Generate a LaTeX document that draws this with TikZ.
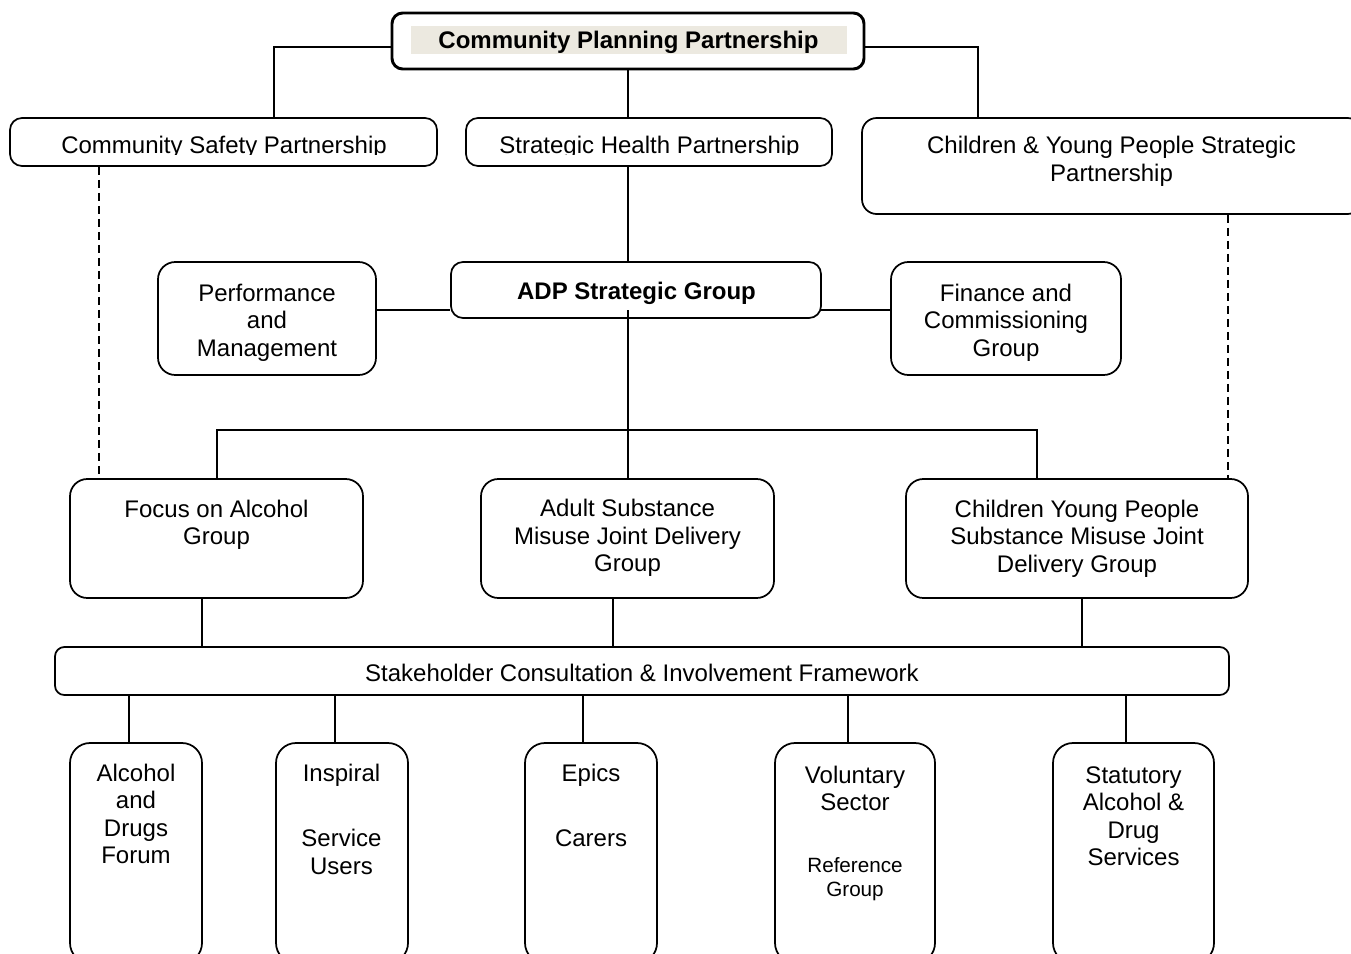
\documentclass[tikz,border=0pt]{standalone}
\usepackage{fontspec}
\setmainfont{Liberation Sans}
\usetikzlibrary{fit,calc}
\definecolor{cppbg}{RGB}{236,233,224}
\begin{document}
\begin{tikzpicture}[x=0.75pt,y=-0.75pt,
  box/.style={draw, line width=1.3pt, inner sep=0pt, rounded corners=9pt, fill=white},
  conn/.style={line width=1.5pt},
  dashconn/.style={line width=1.5pt, dash pattern=on 6pt off 3.75pt},
  txt/.style={inner sep=0pt, anchor=north, align=center, font=\fontsize{18}{20.7}\selectfont},
  btxt/.style={txt, font=\bfseries\fontsize{18}{20.7}\selectfont},
  stxt/.style={txt, font=\fontsize{15.5}{18}\selectfont}]
\useasboundingbox (0,0) rectangle (1351,953);
\clip (0,0) rectangle (1351,953);

% boxes
\node[box, line width=2.2pt, rounded corners=8pt, fit={(392,13)(864,69)}] (CPP) {};
\node[fill=cppbg, inner sep=0pt, fit={(411,26)(847,53.5)}] (CPPbg) {};
\node[btxt] (CPPt) at (628.5,30.5) {Community Planning Partnership};

\node[box, fit={(10,118)(437,166)}] (CSP) {};
\node[box, fit={(466,118)(832,166)}] (SHP) {};
\node[box, rounded corners=11pt, fit={(862,118)(1362,214)}] (CYP) {};
\begin{scope}
  \clip (0,100) rectangle (1351,154);
  \node[txt] (CSPt) at (224,136) {Community Safety Partnership};
  \node[txt] (SHPt) at (649.5,136) {Strategic Health Partnership};
\end{scope}
\node[txt] (CYPt) at (1111.5,136) {Children \& Young People Strategic\\Partnership};

\node[box, fit={(451,262)(821,318)}] (ADP) {};
\node[btxt] (ADPt) at (636.5,281.5) {ADP Strategic Group};
\node[box, rounded corners=13pt, fit={(158,262)(376,375)}] (Perf) {};
\node[txt] (Perft) at (267,283.5) {Performance\\and\\Management};
\node[box, rounded corners=13pt, fit={(891,262)(1121,375)}] (Fin) {};
\node[txt] (Fint) at (1006,283.5) {Finance and\\Commissioning\\Group};

\node[box, rounded corners=13pt, fit={(70,479)(363,598)}] (Focus) {};
\node[txt] (Focust) at (216.5,499.5) {Focus on Alcohol\\Group};
\node[box, rounded corners=13pt, fit={(481,479)(774,598)}] (Adult) {};
\node[txt] (Adultt) at (627.5,499) {Adult Substance\\Misuse Joint Delivery\\Group};
\node[box, rounded corners=13pt, fit={(906,479)(1248,598)}] (CYPD) {};
\node[txt] (CYPDt) at (1077,499.5) {Children Young People\\Substance Misuse Joint\\Delivery Group};

\node[box, rounded corners=7pt, fit={(55,647)(1229,695)}] (Stake) {};
\node[txt] (Staket) at (642,663.5) {Stakeholder Consultation \& Involvement Framework};

\node[box, rounded corners=15pt, fit={(70,743)(202,963)}] (Alc) {};
\node[txt] (Alct) at (136,763.5) {Alcohol\\and\\Drugs\\Forum};
\node[box, rounded corners=15pt, fit={(276,743)(408,963)}] (Insp) {};
\node[txt] (Inspt) at (341.5,763.5) {Inspiral};
\node[txt] (Inspt2) at (341.5,829) {Service\\Users};
\node[box, rounded corners=15pt, fit={(525,743)(657,963)}] (Epics) {};
\node[txt] (Epicst) at (591,763.5) {Epics};
\node[txt] (Epicst2) at (591,829) {Carers};
\node[box, rounded corners=15pt, fit={(775,743)(935,963)}] (Vol) {};
\node[txt] (Volt) at (855,765.5) {Voluntary\\Sector};
\node[stxt] (Volt2) at (855,857.5) {Reference\\Group};
\node[box, rounded corners=15pt, fit={(1053,743)(1214,963)}] (Stat) {};
\node[txt] (Statt) at (1133.5,766) {Statutory\\Alcohol \&\\Drug\\Services};

% connectors
\coordinate (cl) at ($(CPP.west)+(0,5.5)$);
\coordinate (cr) at ($(CPP.east)+(0,5.5)$);
\draw[conn] (cl) -| ($(CSP.north west)+(265,0)$);
\draw[conn] (cr) -| ($(CYP.north west)+(117,0)$);
\draw[conn] (CPP.south) -- (CPP.south |- SHP.north);
\draw[conn] (CPP.south |- SHP.south) -- (CPP.south |- ADP.north);

\coordinate (hl) at ($(Perf.east)+(0,-8.5)$);
\draw[conn] (hl) -- (hl -| ADP.west);
\draw[conn] ($(hl -| ADP.east)+(-2,0)$) -- (hl -| Fin.west);

\coordinate (bus) at ($(Adult.north)+(0,-48)$);
\draw[conn] (hl -| CPP.south) -- (bus -| CPP.south);
\draw[conn] (Focus.north) |- (bus) -| ($(CYPD.north west)+(132,0)$);
\draw[conn] (bus -| CPP.south) -- (CPP.south |- Adult.north);

\coordinate (dl) at ($(CSP.south west)+(90,0)$);
\coordinate (dr) at ($(CYP.south west)+(367,0)$);
\draw[dashconn] (dl) -- (dl |- Focus.north);
\draw[dashconn] (dr) -- (dr |- CYPD.north);

\coordinate (f1) at ($(Focus.south)+(-14.5,0)$);
\coordinate (f2) at ($(Adult.south)+(-14.5,0)$);
\coordinate (f3) at ($(CYPD.south)+(5,0)$);
\foreach \c in {f1,f2,f3} \draw[conn] (\c) -- (\c |- Stake.north);

\coordinate (b1) at ($(Alc.north)+(-7.5,0)$);
\coordinate (b2) at ($(Insp.north)+(-7.5,0)$);
\coordinate (b3) at ($(Epics.north)+(-8,0)$);
\coordinate (b4) at ($(Vol.north)+(-7.5,0)$);
\coordinate (b5) at ($(Stat.north)+(-7.5,0)$);
\foreach \c in {b1,b2,b3,b4,b5} \draw[conn] (\c |- Stake.south) -- (\c);
\end{tikzpicture}
\end{document}
